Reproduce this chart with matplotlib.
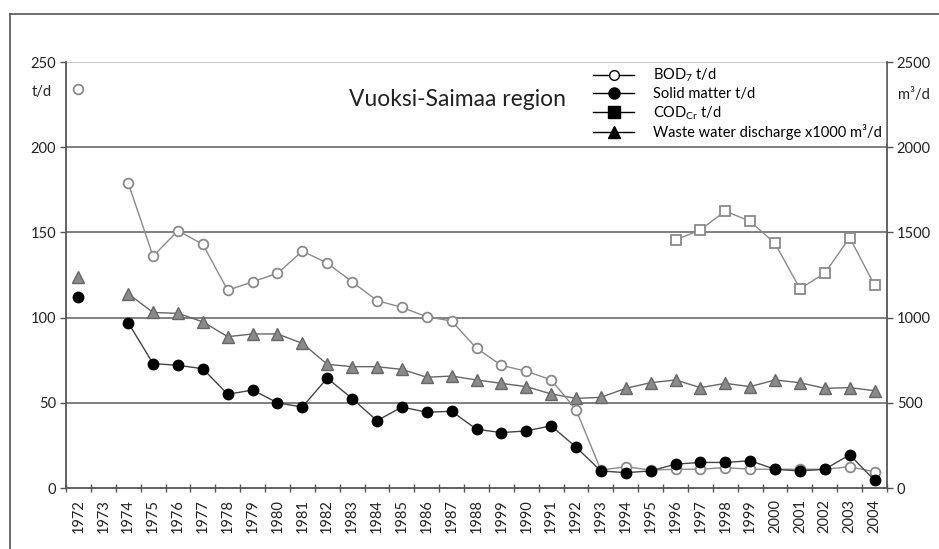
import numpy as np
import matplotlib
matplotlib.use("Agg")
import matplotlib.pyplot as plt
from matplotlib.lines import Line2D

plt.rcParams['font.family'] = ['Lato', 'DejaVu Sans']
plt.rcParams['mathtext.fontset'] = 'custom'
plt.rcParams['mathtext.rm'] = 'Lato'
plt.rcParams['mathtext.it'] = 'Lato:italic'
plt.rcParams['mathtext.bf'] = 'Lato:bold'

nan = np.nan
years = ['1972', '1973', '1974', '1975', '1976', '1977', '1978', '1979', '1980', '1981',
         '1982', '1983', '1984', '1985', '1986', '1987', '1988', '1999', '1990', '1991',
         '1992', '1993', '1994', '1995', '1996', '1997', '1998', '1999', '2000', '2001',
         '2002', '2003', '2004']

bod = [234, nan, 179, 136, 151, 143, 116, 121, 126, 139,
       132, 121, 110, 106, 100.5, 98, 82, 72, 68.5, 63.5,
       46, 10.5, 12.5, 10.5, 11, 11, 12, 11, 11, 11,
       11, 12.5, 9.5]
solid = [112, nan, 97, 73, 72, 70, 55, 57.5, 50, 47.5,
         64.5, 52.5, 39.5, 47.5, 44.5, 45, 34.5, 32.5, 33.5, 36.5,
         24, 10, 9, 10, 14, 15, 15, 16, 11, 10,
         11, 19.5, 4.5]
cod = [nan] * 24 + [145.5, 151.5, 162.5, 156.5, 143.5, 117, 126, 147, 119]
waste = [1240, nan, 1140, 1030, 1025, 975, 888, 904, 904, 849,
         726, 712, 712, 696, 650, 657, 634, 614, 595, 552,
         526, 532, 585, 618, 634, 589, 614, 595, 634, 618,
         585, 589, 571]

W, H = 939, 549
fig = plt.figure(figsize=(W / 100, H / 100), dpi=100)
fig.patch.set_facecolor('white')

# outer frame (left and top lines)
fig.add_artist(Line2D([10 / W, 10 / W], [0, 1 - 14 / H], color='#555555', lw=1.2, transform=fig.transFigure))
fig.add_artist(Line2D([10 / W, 1], [1 - 14 / H, 1 - 14 / H], color='#555555', lw=1.2, transform=fig.transFigure))

left, right, top, bottom = 66, 887, 62, 488
ax = fig.add_axes([left / W, 1 - bottom / H, (right - left) / W, (bottom - top) / H])
ax2 = ax.twinx()

x = np.arange(len(years))

ax.set_xlim(-0.5, len(years) - 0.5)
ax.set_ylim(0, 250)
ax2.set_ylim(0, 2500)

for v in [50, 100, 150, 200]:
    ax.axhline(v, color='#808080', lw=1.4, zorder=1)
ax.axhline(250, color='#c8c8c8', lw=1.4, zorder=1)

ax.plot(x, np.array(waste) / 10.0, color='#666666', lw=1.0, marker='^', ms=8,
        mfc='#8a8a8a', mec='#666666', zorder=3)
ax.plot(x, bod, color='#8a8a8a', lw=1.0, marker='o', ms=7, mfc='white', mec='#8a8a8a',
        mew=1.3, zorder=4)
ax.plot(x, cod, color='#8a8a8a', lw=1.0, marker='s', ms=7, mfc='white', mec='#8a8a8a',
        mew=1.3, zorder=4)
ax.plot(x, solid, color='#444444', lw=1.0, marker='o', ms=7.5, mfc='black', mec='black',
        zorder=5)

# spines
for a in (ax, ax2):
    a.spines['top'].set_visible(False)
ax.spines['left'].set_color('#555555')
ax.spines['left'].set_linewidth(1.3)
ax.spines['bottom'].set_color('#555555')
ax.spines['bottom'].set_linewidth(1.3)
ax.spines['right'].set_visible(False)
ax2.spines['right'].set_color('#555555')
ax2.spines['right'].set_linewidth(1.3)
ax2.spines['left'].set_visible(False)
ax2.spines['bottom'].set_visible(False)

ax.set_yticks([0, 50, 100, 150, 200, 250])
ax.tick_params(axis='y', length=4, width=1, color='#555555', labelsize=10.5, pad=3, labelcolor='#222222')
ax2.set_yticks([0, 500, 1000, 1500, 2000, 2500])
ax2.tick_params(axis='y', length=4, width=1, color='#555555', labelsize=10.5, pad=3, labelcolor='#222222')

ax.set_xticks(x)
ax.set_xticklabels(years, rotation=90, fontsize=10.5, color='#222222')
ax.tick_params(axis='x', length=0, pad=8)
ax.set_xticks(np.arange(len(years) + 1) - 0.5, minor=True)
ax.tick_params(axis='x', which='minor', length=6, width=1, color='#555555', direction='inout')

ax.text(-0.017, 0.93, 't/d', transform=ax.transAxes, ha='right', va='center', fontsize=10.5,
        color='#222222')
ax.text(1.013, 0.922, 'm³/d', transform=ax.transAxes, ha='left', va='center', fontsize=10.5,
        color='#222222')

ax.text(0.345, 0.911, 'Vuoksi-Saimaa region', transform=ax.transAxes, ha='left', va='center',
        fontsize=16.5, color='#222222')

handles = [
    Line2D([], [], color='black', lw=1, marker='o', ms=7, mfc='white', mec='black'),
    Line2D([], [], color='black', lw=1, marker='o', ms=8, mfc='black', mec='black'),
    Line2D([], [], color='black', lw=1, marker='s', ms=8, mfc='black', mec='black'),
    Line2D([], [], color='black', lw=1, marker='^', ms=9, mfc='black', mec='black'),
]
labels = ['BOD$_\\mathregular{7}$ t/d', 'Solid matter t/d', 'COD$_\\mathregular{Cr}$ t/d',
          'Waste water discharge x1000 m³/d']
leg = fig.legend(handles, labels, loc='upper right', bbox_to_anchor=(885 / W, 1 - 64 / H),
                 bbox_transform=fig.transFigure,
                 frameon=True, fontsize=10.5, handlelength=2.8, handletextpad=1.3,
                 labelspacing=0.2, borderpad=0.2, borderaxespad=0.0, fancybox=False,
                 edgecolor='white', framealpha=1.0)
leg.set_zorder(10)

fig.savefig('out.png', dpi=100, facecolor='white')
